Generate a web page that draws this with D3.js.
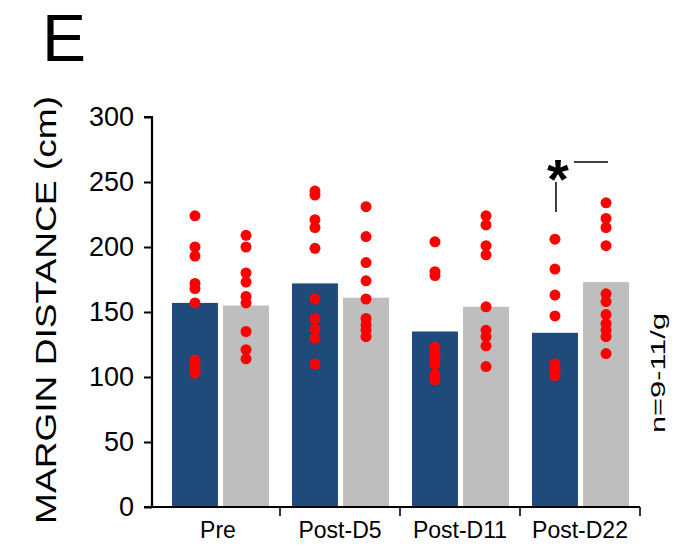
<!DOCTYPE html>
<html>
<head>
<meta charset="utf-8">
<script src="https://cdn.jsdelivr.net/npm/d3@7/dist/d3.min.js"></script>
<style>
  html, body { margin: 0; padding: 0; background: #fff; }
  svg { display: block; font-family: "Liberation Sans", Arial, sans-serif; }
</style>
</head>
<body>
<svg id="chart" width="691" height="549"></svg>
<script>
// ---- data ----
const categories = ["Pre", "Post-D5", "Post-D11", "Post-D22"];
const groups = ["group1", "group2"];
const meanGroup1 = [157, 172, 135, 134];
const meanGroup2 = [155, 161, 154, 173];
const pointsGroup1 = [
  [224, 200, 193, 172, 168, 157, 113, 109, 105, 103],
  [243, 240, 221, 215, 199, 160, 145, 137, 130, 110],
  [204, 181, 178, 123, 118, 114, 110, 102, 98],
  [206, 183, 163, 147, 110, 106, 103, 101]
];
const pointsGroup2 = [
  [209, 200, 180, 173, 162, 157, 135, 121, 114],
  [231, 208, 188, 174, 160, 145, 140, 136, 131],
  [224, 217, 201, 194, 154, 136, 131, 124, 108],
  [234, 222, 215, 201, 164, 158, 148, 141, 136, 131, 118]
];
const yTicks = [0, 50, 100, 150, 200, 250, 300];
const panelLabel = "E";
const yTitle = "MARGIN DISTANCE (cm)";
const nNote = "n=9-11/g";
const sigCategory = "Post-D22";

// ---- styles ----
const colors = { group1: "#1f4b7a", group2: "#bebebe" };
const dotColor = "#ff0000";

const svg = d3.select("#chart");

const x0 = d3.scaleBand().domain(categories).range([160, 640]);
const x1 = d3.scaleBand().domain(groups).range([12, 109]).paddingInner(0.1);
const y = d3.scaleLinear().domain([0, 300]).range([507, 117]);

const means = { group1: meanGroup1, group2: meanGroup2 };
const points = { group1: pointsGroup1, group2: pointsGroup2 };

// bars
const bars = [];
categories.forEach((c, i) => groups.forEach(g => bars.push({ c, g, v: means[g][i] })));
svg.append("g").selectAll("rect").data(bars).join("rect")
  .attr("x", d => x0(d.c) + x1(d.g))
  .attr("width", x1.bandwidth())
  .attr("y", d => y(d.v))
  .attr("height", d => y(0) - y(d.v))
  .attr("fill", d => colors[d.g]);

// dots
const dots = [];
categories.forEach((c, i) => groups.forEach(g => points[g][i].forEach(v => dots.push({ c, g, v }))));
svg.append("g").selectAll("circle").data(dots).join("circle")
  .attr("cx", d => x0(d.c) + x1(d.g) + x1.bandwidth() / 2)
  .attr("cy", d => y(d.v))
  .attr("r", 5.5)
  .attr("fill", dotColor);

// y axis
const yAxis = svg.append("g")
  .attr("transform", "translate(152,0)")
  .call(d3.axisLeft(y).tickValues(yTicks).tickSize(8).tickPadding(10));
yAxis.select(".domain").attr("stroke", "#000").attr("stroke-width", 2.2)
  .attr("d", `M-8,${y(300)}H0V${y(0)}`);
yAxis.selectAll(".tick line").attr("stroke", "#000").attr("stroke-width", 2);
yAxis.selectAll(".tick text").attr("font-size", 27).attr("fill", "#000")
  .attr("font-family", "'Liberation Sans', Arial, sans-serif");

// x axis line with separator ticks
const xAxisG = svg.append("g").attr("transform", `translate(0,${y(0)})`);
xAxisG.append("line").attr("x1", 144).attr("x2", x0.range()[1])
  .attr("y1", 0).attr("y2", 0).attr("stroke", "#000").attr("stroke-width", 2.2);
const seps = categories.map(c => x0(c) + x0.bandwidth());
xAxisG.selectAll("line.sep").data(seps).join("line").attr("class", "sep")
  .attr("x1", d => d).attr("x2", d => d).attr("y1", 0).attr("y2", 9)
  .attr("stroke", "#000").attr("stroke-width", 1.6);
xAxisG.selectAll("text").data(categories).join("text")
  .attr("x", d => x0(d) + x0.bandwidth() / 2 + (d === "Pre" ? -2 : 0))
  .attr("y", 31)
  .attr("text-anchor", "middle")
  .attr("font-size", 23)
  .attr("fill", "#000")
  .text(d => d);

// y title
svg.append("text")
  .attr("transform", `translate(56,310) rotate(-90)`)
  .attr("text-anchor", "middle")
  .attr("font-size", 30)
  .attr("textLength", 428)
  .attr("lengthAdjust", "spacingAndGlyphs")
  .attr("fill", "#000")
  .text(yTitle);

// panel label
svg.append("text")
  .attr("x", 42).attr("y", 61)
  .attr("font-size", 66)
  .attr("fill", "#000")
  .text(panelLabel);

// n note
svg.append("text")
  .attr("transform", `translate(665,373) rotate(-90)`)
  .attr("text-anchor", "middle")
  .attr("font-size", 21)
  .attr("textLength", 120)
  .attr("lengthAdjust", "spacingAndGlyphs")
  .attr("fill", "#000")
  .text(nNote);

// significance marker
const sx1 = x0(sigCategory) + x1("group1") + x1.bandwidth() / 2;
const sx2 = x0(sigCategory) + x1("group2") + x1.bandwidth() / 2;
svg.append("line").attr("x1", sx1 + 1).attr("x2", sx1 + 1)
  .attr("y1", 182).attr("y2", 212).attr("stroke", "#000").attr("stroke-width", 1.5);
svg.append("line").attr("x1", sx1 + 19).attr("x2", sx2 + 2)
  .attr("y1", 162).attr("y2", 162).attr("stroke", "#000").attr("stroke-width", 1.5);
svg.append("text")
  .attr("x", sx1 + 3).attr("y", 198)
  .attr("text-anchor", "middle")
  .attr("font-size", 56)
  .attr("font-weight", "bold")
  .attr("fill", "#000")
  .text("*");
</script>
</body>
</html>
